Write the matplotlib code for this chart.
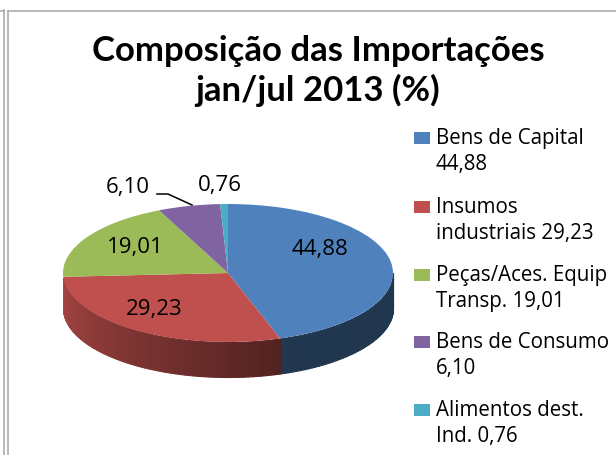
import numpy as np
import matplotlib
matplotlib.use("Agg")
import matplotlib.pyplot as plt
from matplotlib.lines import Line2D
from matplotlib.patches import Rectangle

plt.rcParams['font.family'] = ['Open Sans', 'DejaVu Sans']

# --- data ---
title = "Composição das Importações\njan/jul 2013 (%)"
values = [44.88, 29.23, 19.01, 6.10, 0.76]
value_labels = ["44,88", "29,23", "19,01", "6,10", "0,76"]
legend_labels = ["Bens de Capital\n44,88", "Insumos\nindustriais 29,23",
                 "Peças/Aces. Equip\nTransp. 19,01", "Bens de Consumo\n6,10",
                 "Alimentos dest.\nInd. 0,76"]
colors = ["#4F81BD", "#C0504D", "#9BBB59", "#8064A2", "#4BACC6"]

W, H = 616, 455
cx, cy, rx, ry = 228, 273, 165, 69
depth = 35 / ry


def fx(px):
    return px / W


def fy(py):
    return 1 - py / H


fig = plt.figure(figsize=(W / 100, H / 100), dpi=100, facecolor="white")
ax = fig.add_axes([0, 0, 1, 1])

# --- side wall of the pie ---
start = 90.0
for val, col in zip(values, colors):
    end = start - val * 3.6
    lo, hi = end % 360, (start % 360) or 360
    if hi < lo:
        hi += 360
    # the green sliver at the far left does not show in the wall
    lo2, hi2 = max(lo, 184), min(hi, 360)
    if hi2 > lo2:
        edges = np.arange(lo2, hi2 + 1.5, 1.5)
        edges[-1] = hi2
        for a, b in zip(edges[:-1], edges[1:]):
            t = np.radians(np.linspace(a, b, 4))
            shade = np.interp((a + b) / 2, [180, 290, 360], [0.88, 0.42, 0.42])
            c = np.array(matplotlib.colors.to_rgb(col)) * shade
            ax.fill_between(np.cos(t), np.sin(t), np.sin(t) - depth,
                            color=c, linewidth=0.8, antialiased=False, zorder=1)
    start = end

# --- top face ---
ax.pie(values, colors=colors, startangle=90, counterclock=False,
       radius=1, wedgeprops={"linewidth": 0, "zorder": 2})
ax.set_aspect("auto")
ax.set_xlim(-cx / rx, (W - cx) / rx)
ax.set_ylim((cy - H) / ry, cy / ry)
ax.set_axis_off()

# --- titre ---
fig.text(fx(318), fy(71), title, ha="center", va="center", fontsize=25,
         fontweight="bold", color="black", family=['Lato', 'DejaVu Sans'], linespacing=1.25)

# --- etiquettes ---
label_pos = [(320, 250), (154, 310), (135, 248), (128, 188), (220, 186)]
for txt, (px, py) in zip(value_labels, label_pos):
    fig.text(fx(px), fy(py), txt, ha="center", va="center", fontsize=16, color="black")
fig.add_artist(Line2D([fx(157), fx(168), fx(192)], [fy(194), fy(194), fy(205)],
                      color="black", lw=1.1))

# --- legende ---
leg_y = [138, 207, 275, 342, 410]
for lab, col, py in zip(legend_labels, colors, leg_y):
    fig.add_artist(Rectangle((fx(414), fy(py + 6)), 16 / W, 12 / H, facecolor=col,
                             edgecolor="none", transform=fig.transFigure))
    fig.text(fx(436), fy(py + 13.5), lab, ha="left", va="center", fontsize=14.8,
             color="black", linespacing=1.27)

# --- cadre ---
for xs, ys in [((4, 4), (10, 455)), ((7.5, 7.5), (11, 455)), ((0, 4), (10.5, 10.5)),
               ((7.5, 616), (10.5, 10.5))]:
    fig.add_artist(Line2D([fx(x) for x in xs], [fy(y) for y in ys], color="#A6A6A6", lw=1.1))

fig.savefig("out.png", dpi=100)
